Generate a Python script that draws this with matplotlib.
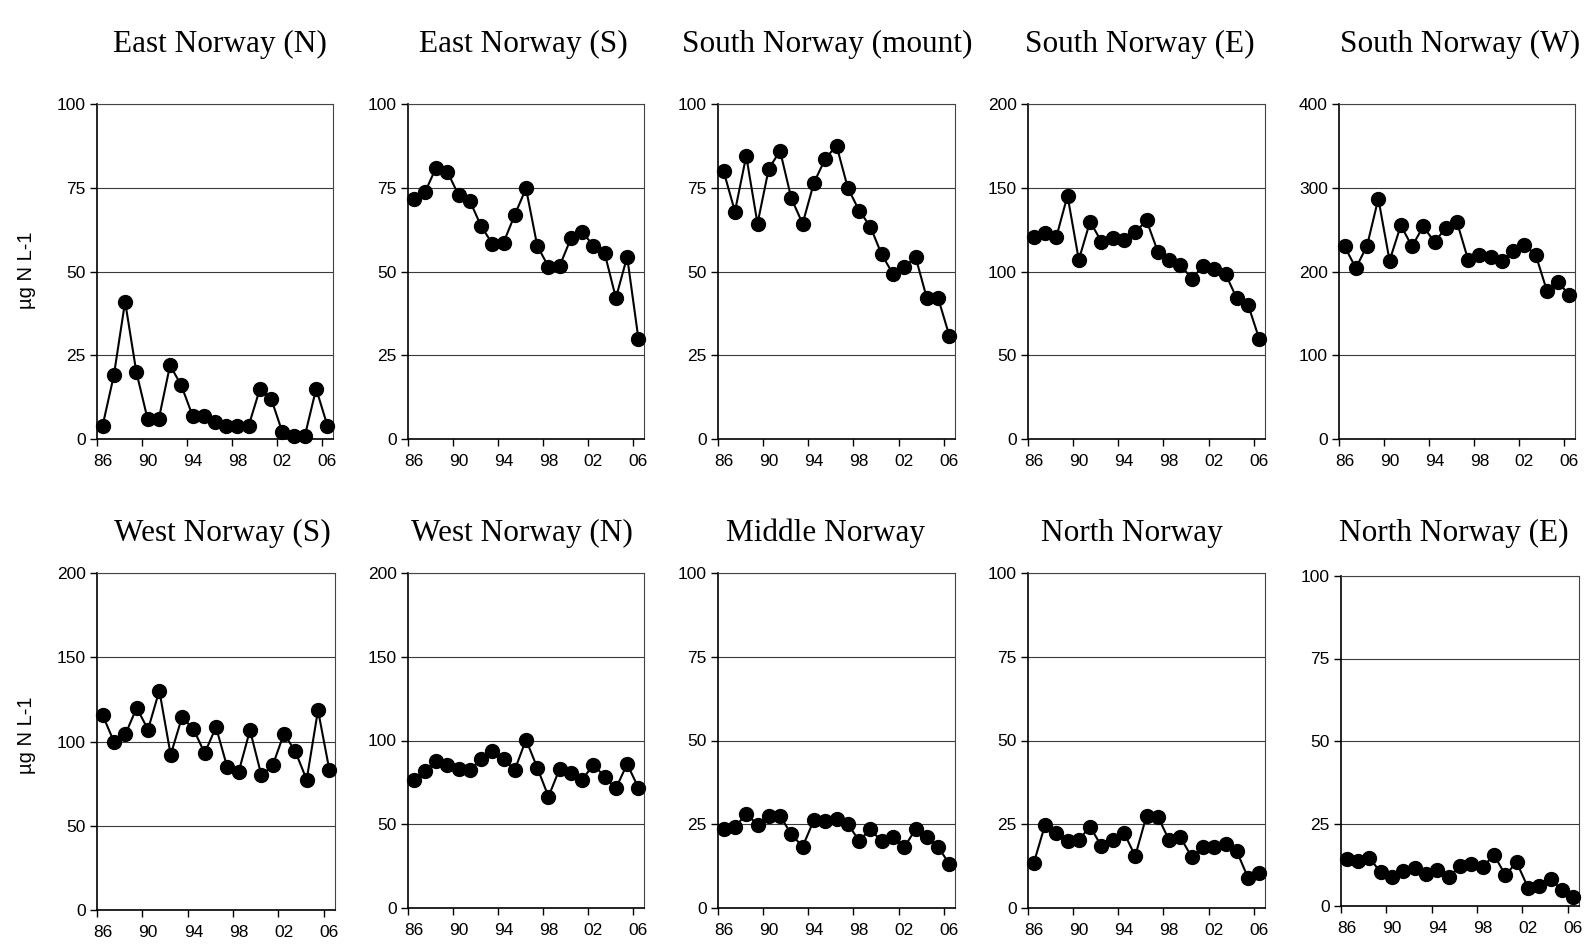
import numpy as np
import matplotlib
matplotlib.use("Agg")
import matplotlib.pyplot as plt

# years 1986-2006, one value per year
years = list(range(1986, 2007))

east_n = [4, 19, 41, 20, 6, 6, 22, 16, 7, 7, 5, 4, 4, 4, 15, 12, 2, 1, 1, 15, 4]
east_s = [71.5, 73.6, 81, 79.8, 72.8, 71.1, 63.6, 58.3, 58.6, 66.9, 74.8, 57.7,
          51.4, 51.7, 59.9, 61.9, 57.6, 55.4, 42.1, 54.4, 30]
south_mount = [79.9, 67.9, 84.5, 64.3, 80.7, 86, 71.8, 64.3, 76.5, 83.6, 87.6, 75,
               68.2, 63.4, 55.1, 49.3, 51.2, 54.4, 42.1, 42.1, 30.8]
south_e = [120.7, 122.7, 120.3, 145.3, 107, 129.8, 117.9, 119.9, 119.1, 123.3, 130.6,
           111.9, 106.8, 104, 95.8, 103, 101.6, 98.6, 83.9, 80.1, 59.6]
south_w = [230, 204, 231, 287, 213, 255, 230, 254, 235, 252, 259, 213.5, 220, 217.5,
           212, 225, 232, 220, 177, 187, 172]
west_s = [115.6, 99.8, 104.2, 120, 107.1, 130.2, 92.1, 114.4, 107.5, 93.1, 108.5,
          84.6, 82, 106.7, 80, 85.8, 104.7, 94.1, 77.3, 118.6, 83.2]
west_n = [76.4, 81.6, 88, 85.2, 83.2, 82.4, 88.8, 93.5, 89.2, 82.4, 100.5, 83.8,
          66.5, 83.2, 80.6, 76.6, 85.6, 78.4, 71.4, 86, 71.8]
middle = [23.7, 24.1, 28.1, 24.9, 27.5, 27.5, 22, 18.3, 26.3, 25.9, 26.7, 25.1,
          20.1, 23.5, 19.9, 21.3, 18.1, 23.5, 21.1, 18.3, 13.1]
north = [13.3, 24.7, 22.5, 19.9, 20.3, 24.3, 18.5, 20.3, 22.5, 15.5, 27.5, 27.3,
         20.3, 21.1, 15.3, 18.3, 18.3, 19.1, 16.9, 9, 10.5]
north_e = [14.2, 13.6, 14.6, 10.2, 8.8, 10.6, 11.6, 9.6, 10.8, 8.8, 12, 12.6, 11.8,
           15.5, 9.4, 13.2, 5.6, 6, 8.2, 4.9, 2.6]

titles = ["East Norway (N)", "East Norway (S)", "South Norway (mount)",
          "South Norway (E)", "South Norway (W)",
          "West Norway (S)", "West Norway (N)", "Middle Norway",
          "North Norway", "North Norway (E)"]
series = [east_n, east_s, south_mount, south_e, south_w,
          west_s, west_n, middle, north, north_e]
ymax = [100, 100, 100, 200, 400, 200, 200, 100, 100, 100]
ystep = [25, 25, 25, 50, 100, 50, 50, 25, 25, 25]

year_labels = ["86", "90", "94", "98", "02", "06"]

W, H = 1595, 951
fig = plt.figure(figsize=(W / 100, H / 100), dpi=100)
fig.patch.set_facecolor("white")

# axes boxes in pixels: left, right, top, bottom
boxes = [(97, 333, 104, 439), (408, 644, 104, 439), (718, 955, 104, 439),
         (1028, 1265, 104, 439), (1339, 1575, 104, 439),
         (97, 335, 573, 910), (408, 644, 573, 908), (718, 955, 573, 908),
         (1028, 1265, 573, 908), (1341, 1579, 576, 906)]
# title centres in pixels (not exactly over the boxes in the original)
title_x = [220, 523, 827, 1140, 1460, 222, 522, 825, 1132, 1454]

x = np.arange(len(years))

for i in range(10):
    l, r, t, b = boxes[i]
    ax = fig.add_axes([l / W, 1 - b / H, (r - l) / W, (b - t) / H])
    ax.plot(x, series[i], color="black", lw=1.5, marker="o", ms=10, zorder=3,
            clip_on=False)
    ax.set_xlim(-0.5, len(years) - 0.5)
    ax.set_ylim(0, ymax[i])
    ax.set_yticks(np.arange(0, ymax[i] + 1, ystep[i]))
    ax.yaxis.grid(True, color="#3a3a3a", lw=0.8)
    ax.set_axisbelow(True)
    # tick marks between categories, labels under the category
    ax.set_xticks(np.arange(-0.5, len(years) - 1, 4))
    ax.set_xticklabels([])
    ax.set_xticks(np.arange(0, len(years), 4), minor=True)
    ax.set_xticklabels(year_labels, minor=True)
    ax.tick_params(axis="x", which="major", length=5, width=1, direction="out")
    ax.tick_params(axis="x", which="minor", length=0, pad=11)
    ax.tick_params(axis="y", length=5, width=1, pad=3)
    ax.tick_params(which="both", labelsize=12.5)
    for lab in ax.get_xticklabels(minor=True) + ax.get_yticklabels():
        lab.set_family("Liberation Sans")
    for s in ["left", "bottom"]:
        ax.spines[s].set_linewidth(1.2)
    for s in ["top", "right"]:
        ax.spines[s].set_linewidth(0.8)
        ax.spines[s].set_color("#444444")
    ty = 44 if i < 5 else 533
    fig.text(title_x[i] / W, 1 - ty / H, titles[i], ha="center", va="center",
             family="Liberation Serif", fontsize=22.5)
    if i % 5 == 0:
        fig.text(26 / W, 1 - (270 if i == 0 else 735) / H, "µg N L-1", rotation=90,
                 ha="center", va="center", family="Liberation Sans", fontsize=14.5)

fig.savefig("out.png", dpi=100)
